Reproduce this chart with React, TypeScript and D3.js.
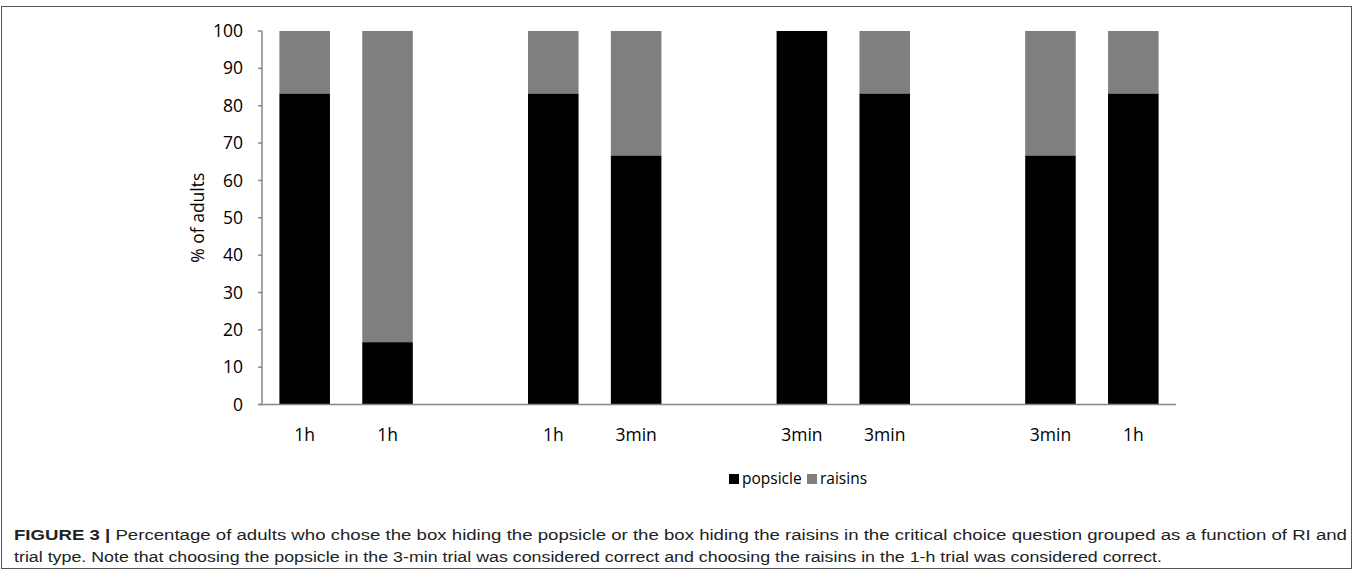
import React from "react";
import * as d3 from "d3";

const categories = ["1h", "1h", "", "1h", "3min", "", "3min", "3min", "", "3min", "1h"];
const popsicle = [83.3, 16.7, null, 83.3, 66.7, null, 100, 83.3, null, 66.7, 83.3];
const raisins = [16.7, 83.3, null, 16.7, 33.3, null, 0, 16.7, null, 33.3, 16.7];
const yTicks = [0, 10, 20, 30, 40, 50, 60, 70, 80, 90, 100];
const seriesNames = ["popsicle", "raisins"];
const seriesColors = ["#000000", "#7f7f7f"];
const captionBold = "FIGURE 3 |";
const captionLine1 =
  " Percentage of adults who chose the box hiding the popsicle or the box hiding the raisins in the critical choice question grouped as a function of RI and";
const captionLine2 =
  "trial type. Note that choosing the popsicle in the 3-min trial was considered correct and choosing the raisins in the 1-h trial was considered correct.";

const W = 1360;
const H = 575;
const axisFont = "'Open Sans', 'DejaVu Sans', sans-serif";
const capFont = "'Liberation Sans Narrow', 'Arial Narrow', 'Liberation Sans', sans-serif";

export default function App() {
  const x0 = 262;
  const x1 = 1176;
  const yTop = 31;
  const yBot = 404.5;
  const idx = categories.map((_, i) => String(i));
  const x = d3.scaleBand<string>().domain(idx).range([x0, x1]).paddingInner(0.39).paddingOuter(0.21);
  const y = d3.scaleLinear().domain([0, 100]).range([yBot, yTop]);

  const stackData = categories.map((c, i) => ({ key: String(i), popsicle: popsicle[i], raisins: raisins[i] }));
  const stacked = d3.stack<any>().keys(seriesNames)(stackData.filter((d) => d.popsicle !== null));

  return (
    <svg width={W} height={H} style={{ position: "absolute", left: 0, top: 0, background: "#fff" }}>
      <rect x={1.5} y={6.5} width={1350} height={562} fill="none" stroke="#555" strokeWidth={1} />
      {stacked.map((s, si) =>
        s.map((d: any) =>
          d[1] - d[0] > 0 ? (
            <rect
              key={si + "-" + d.data.key}
              x={x(d.data.key)}
              y={y(d[1])}
              width={x.bandwidth()}
              height={y(d[0]) - y(d[1])}
              fill={seriesColors[si]}
            />
          ) : null
        )
      )}
      <line x1={x0} x2={x0} y1={yTop} y2={yBot} stroke="#868686" strokeWidth={1.5} />
      <line x1={x0 - 4} x2={x1} y1={yBot} y2={yBot} stroke="#868686" strokeWidth={1.5} />
      {yTicks.map((t) => (
        <g key={t}>
          <line x1={x0 - 4} x2={x0} y1={y(t)} y2={y(t)} stroke="#868686" strokeWidth={1.5} />
          <text x={x0 - 19} y={y(t)} dy="0.35em" textAnchor="end" fontFamily={axisFont} fontSize={17.5} fill="#000">
            {t}
          </text>
        </g>
      ))}
      {categories.map((c, i) =>
        c ? (
          <text
            key={i}
            x={(x(String(i)) as number) + x.bandwidth() / 2}
            y={435}
            dy="0.35em"
            textAnchor="middle"
            fontFamily={axisFont}
            fontSize={17.5}
            fill="#000"
          >
            {c}
          </text>
        ) : null
      )}
      <text
        transform={`translate(198,${(yTop + yBot) / 2}) rotate(-90)`}
        textAnchor="middle"
        dy="0.35em"
        fontFamily={axisFont}
        fontSize={17.5}
        fill="#000"
      >
        % of adults
      </text>
      <g>
        <rect x={729} y={474} width={10} height={10} fill={seriesColors[0]} />
        <text x={742} y={479} dy="0.35em" fontFamily={axisFont} fontSize={15.5} fill="#000">
          {seriesNames[0]}
        </text>
        <rect x={807} y={474} width={10} height={10} fill={seriesColors[1]} />
        <text x={820} y={479} dy="0.35em" fontFamily={axisFont} fontSize={15.5} fill="#000">
          {seriesNames[1]}
        </text>
      </g>
      <text x={14} y={540} fontFamily={capFont} fontSize={15.5} fill="#222" textLength={1333} lengthAdjust="spacingAndGlyphs">
        <tspan fontWeight="bold">{captionBold}</tspan>
        <tspan>{captionLine1}</tspan>
      </text>
      <text x={14} y={562} fontFamily={capFont} fontSize={15.5} fill="#222" textLength={1148} lengthAdjust="spacingAndGlyphs">
        {captionLine2}
      </text>
    </svg>
  );
}
